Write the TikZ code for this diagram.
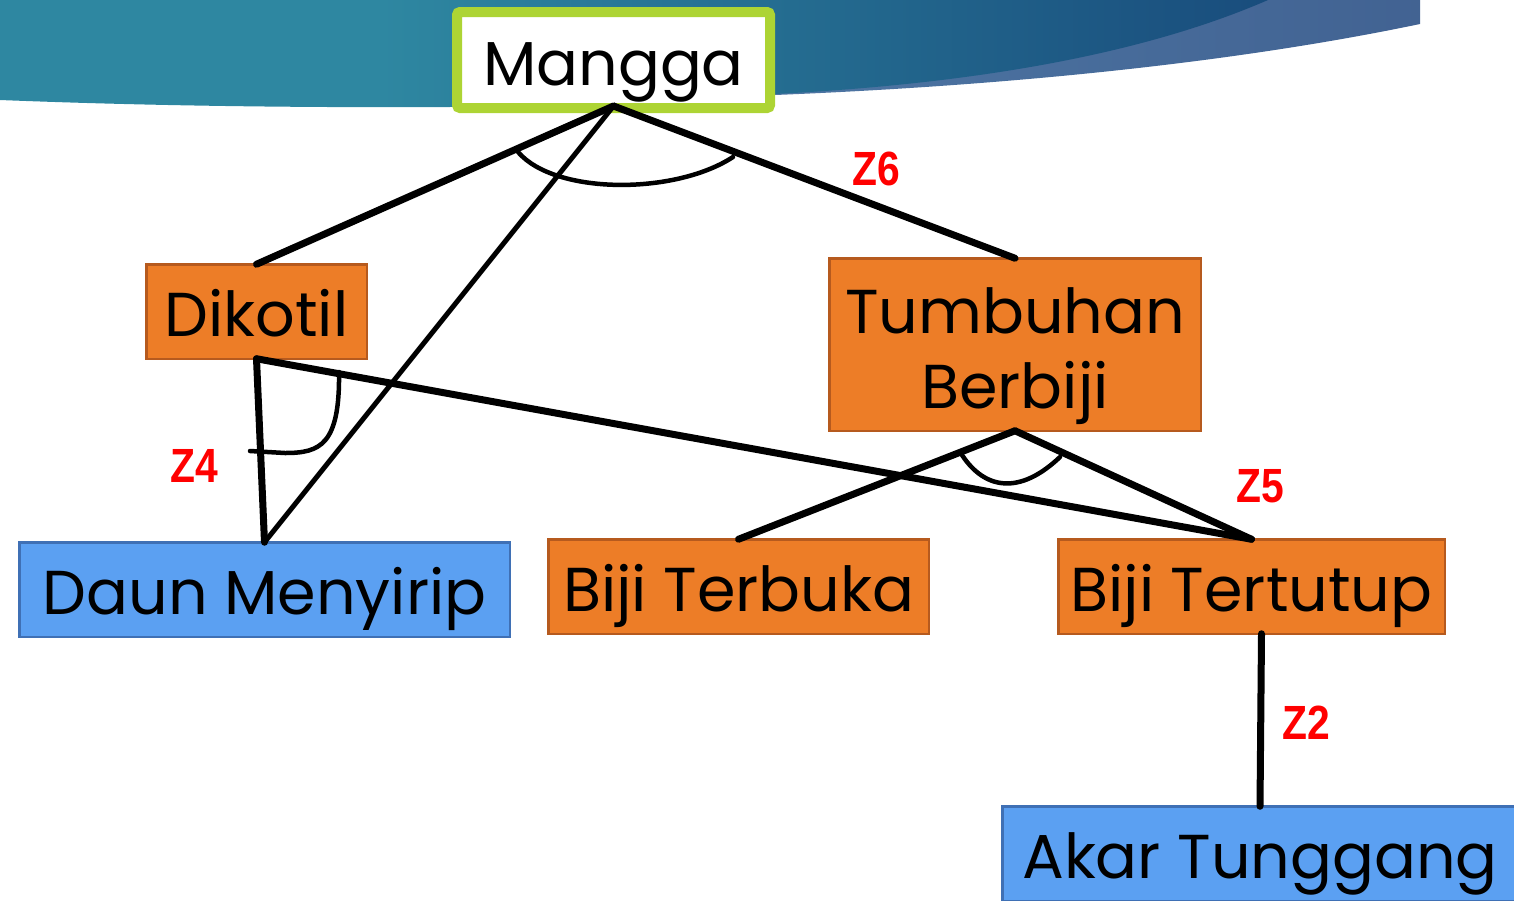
\documentclass[tikz,border=0pt]{standalone}
\usepackage{fontspec}
\usepackage{graphicx}
\setmainfont{Poppins}
\newfontfamily\zfont{Liberation Sans}
\usetikzlibrary{calc}
\definecolor{bTeal}{HTML}{2E87A1}
\definecolor{bNavy}{HTML}{133C72}
\definecolor{sLight}{HTML}{5582AE}
\definecolor{sDark}{HTML}{3B5889}
\definecolor{mGreen}{HTML}{ADD434}
\definecolor{bOrange}{HTML}{ED7D27}
\definecolor{bOrangeD}{HTML}{B65A1E}
\definecolor{bBlue}{HTML}{5BA0F2}
\definecolor{bBlueD}{HTML}{3F70B5}
\definecolor{zRed}{HTML}{FF0000}
\pgfdeclarehorizontalshading{bannershade}{100bp}{color(0bp)=(bTeal); color(40bp)=(bTeal); color(85bp)=(bNavy); color(100bp)=(bNavy)}
\pgfdeclarehorizontalshading{swooshshade}{100bp}{color(0bp)=(sLight); color(100bp)=(sDark)}
\tikzset{
  box/.style={draw, line width=2.5pt, inner sep=0pt, outer sep=0pt, align=center,
    font=\fontsize{62}{75}\selectfont, text height=50pt, text depth=0pt},
  obox/.style={box, fill=bOrange, draw=bOrangeD},
  bbox/.style={box, fill=bBlue, draw=bBlueD},
  zlabel/.style={text=zRed, inner sep=0pt, font=\zfont\bfseries\fontsize{48}{48}\selectfont, text height=34pt, text depth=0pt},
  thickline/.style={line width=7pt, line cap=round, line join=round},
  thinline/.style={line width=5pt, line cap=round},
  arcline/.style={line width=4.5pt, line cap=round}
}
\begin{document}
\begin{tikzpicture}[x=1pt,y=-1pt]
\useasboundingbox (0,0) rectangle (1514,900);
% banner
\shade[shading=swooshshade] (700,0) -- (1420,0) -- (1420,24) .. controls (1200,70) and (950,88) .. (775,95) -- (700,96) -- cycle;
\shade[shading=bannershade] (0,0) -- (1268,0) .. controls (1130,60) and (950,85) .. (775,94) -- (450,107) .. controls (250,108) and (100,104) .. (0,100) -- cycle;
% nodes
\node[draw=mGreen, line width=10pt, fill=white, rounded corners=3pt, inner sep=0pt, outer sep=0pt,
  minimum width=313pt, minimum height=96pt, font=\fontsize{62}{75}\selectfont, text height=50pt, text depth=0pt]
  (mangga) at (613.5,60) {Mangga};
\node[obox, minimum width=220.5pt, minimum height=94.5pt] (dikotil) at (256.5,311.5) {Dikotil};
\node[obox, minimum width=371.5pt, minimum height=172.5pt, text height=127pt, text depth=0pt] (tumbuhan) at (1015,344.5) {Tumbuhan\\Berbiji};
\node[bbox, minimum width=490.5pt, minimum height=94.5pt] (daun) at (264.5,589.5) {Daun Menyirip};
\node[obox, minimum width=380.5pt, minimum height=94.5pt] (terbuka) at (738.5,586.5) {Biji Terbuka};
\node[obox, minimum width=386.5pt, minimum height=94.5pt] (tertutup) at (1251.5,586.5) {Biji Tertutup};
\node[bbox, minimum width=515.5pt, minimum height=94.5pt] (akar) at (1260,853.5) {Akar Tunggang};
% labels
\node[zlabel] (z6) at (876,168) {\scalebox{0.85}[1]{Z6}};
\node[zlabel] (z4) at (194,465) {\scalebox{0.85}[1]{Z4}};
\node[zlabel] (z5) at (1260,485) {\scalebox{0.85}[1]{Z5}};
\node[zlabel] (z2) at (1306,722) {\scalebox{0.85}[1]{Z2}};
% connectors
\draw[thickline] ([yshift=2pt]mangga.south) -- (dikotil.north);
\draw[thickline] ([yshift=2pt]mangga.south) -- (tumbuhan.north);
\draw[thinline] ([yshift=2pt]mangga.south) -- (daun.north);
\draw[thickline] (dikotil.south) -- (daun.north);
\draw[thickline] (dikotil.south) -- (tertutup.north);
\draw[thickline] (tumbuhan.south) -- (terbuka.north);
\draw[thickline] (tumbuhan.south) -- (tertutup.north);
\draw[thickline] ([xshift=10pt]tertutup.south) -- (akar.north);
% arcs
\draw[arcline] (518,152) .. controls (555,195) and (675,195) .. (733,157);
\draw[arcline] (339,372) .. controls (340,445) and (320,453) .. (285,453) -- (250,451);
\draw[arcline] (962,455) .. controls (985,490) and (1020,495) .. (1060,457);
\end{tikzpicture}
\end{document}
